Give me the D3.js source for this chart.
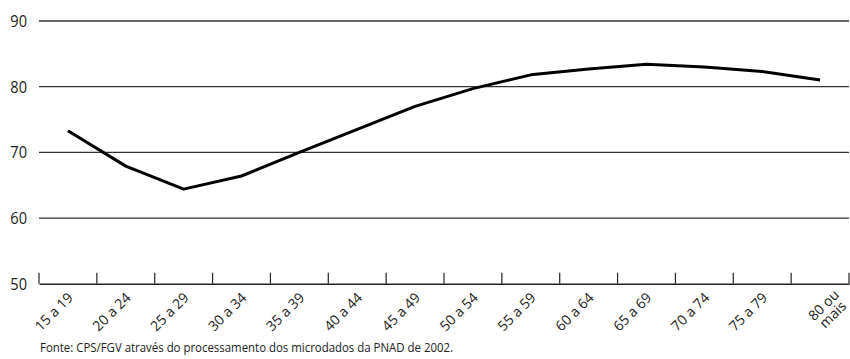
<!DOCTYPE html>
<html>
<head>
<meta charset="utf-8">
<script src="https://cdn.jsdelivr.net/npm/d3@7"></script>
<style>
  html, body { margin: 0; padding: 0; background: #fff; }
  svg { display: block; font-family: "Open Sans", "Noto Sans", sans-serif; }
</style>
</head>
<body>
<svg id="chart" width="850" height="359"></svg>
<script>
const categories = ["15 a 19","20 a 24","25 a 29","30 a 34","35 a 39","40 a 44","45 a 49","50 a 54","55 a 59","60 a 64","65 a 69","70 a 74","75 a 79","80 ou mais"];
const values = [73.3, 67.9, 64.4, 66.4, 70.0, 73.5, 77.0, 79.7, 81.8, 82.7, 83.4, 83.0, 82.3, 81.0];
const yTicks = [50, 60, 70, 80, 90];
const sourceText = "Fonte: CPS/FGV através do processamento dos microdados da PNAD de 2002.";

const svg = d3.select("#chart");
const mLeft = 39, mRight = 849, mTop = 21, mBottom = 283.7;

const x = d3.scaleBand().domain(categories).range([mLeft, mRight]).padding(0);
const y = d3.scaleLinear().domain([50, 90]).range([mBottom, mTop]);

// gridlines
svg.append("g").selectAll("line")
  .data(yTicks.filter(d => d !== 50))
  .join("line")
  .attr("x1", mLeft).attr("x2", mRight)
  .attr("y1", d => y(d)).attr("y2", d => y(d))
  .attr("stroke", "#333").attr("stroke-width", 1.3);

// y labels
svg.append("g").selectAll("text")
  .data(yTicks)
  .join("text")
  .attr("transform", d => `translate(27,${y(d)}) scale(0.86,1)`)
  .attr("text-anchor", "end")
  .attr("dy", "0.35em")
  .attr("font-size", 17)
  .attr("fill", "#222")
  .text(d => d);

// x axis (bottom line with upward ticks at band boundaries)
const xAxis = d3.axisBottom(x).tickSize(0).tickFormat("");
const gx = svg.append("g").attr("transform", `translate(0,${mBottom})`).call(xAxis);
gx.select(".domain").attr("stroke", "#222").attr("stroke-width", 1.5);
const boundaries = categories.map(c => x(c)).concat([x(categories[categories.length - 1]) + x.bandwidth()]);
gx.selectAll(".bt").data(boundaries).join("line")
  .attr("class", "bt")
  .attr("x1", d => d).attr("x2", d => d)
  .attr("y1", 0).attr("y2", -11)
  .attr("stroke", "#222").attr("stroke-width", 1.2);

// x labels
const labels = svg.append("g").selectAll("text")
  .data(categories)
  .join("text")
  .attr("transform", d => {
    const cx = x(d) + x.bandwidth() / 2;
    return d === "80 ou mais" ? `translate(${cx + 20},${mBottom + 12}) rotate(-45)` : `translate(${cx + 6},${mBottom + 15}) rotate(-45)`;
  })
  .attr("text-anchor", "end")
  .attr("font-size", 14)
  .attr("fill", "#222");
labels.each(function(d) {
  const t = d3.select(this);
  if (d === "80 ou mais") {
    t.append("tspan").attr("x", 0).attr("dy", 0).text("80 ou");
    t.append("tspan").attr("x", -3).attr("dy", 13).text("mais");
  } else {
    t.text(d);
  }
});

// line
const line = d3.line()
  .x((d, i) => x(categories[i]) + x.bandwidth() / 2)
  .y(d => y(d));
svg.append("path")
  .datum(values)
  .attr("d", line)
  .attr("fill", "none")
  .attr("stroke", "#000")
  .attr("stroke-width", 3)
  .attr("stroke-linejoin", "round");

// source
svg.append("text")
  .attr("x", 40).attr("y", 352)
  .attr("font-size", 12.5)
  .attr("fill", "#222")
  .attr("textLength", 413)
  .attr("lengthAdjust", "spacingAndGlyphs")
  .text(sourceText);
</script>
</body>
</html>
